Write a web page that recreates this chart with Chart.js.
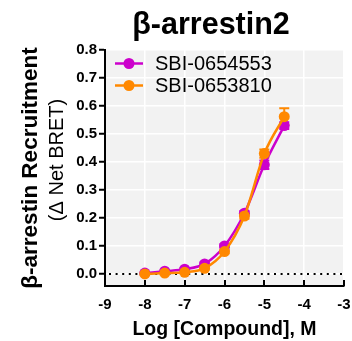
<!DOCTYPE html>
<html>
<head>
<meta charset="utf-8">
<script src="https://cdn.jsdelivr.net/npm/chart.js@4"></script>
<style>
  html, body { margin: 0; padding: 0; background: #fff; }
  #wrap { width: 352px; height: 341px; }
</style>
</head>
<body>
<div id="wrap"><canvas id="grafica" width="352" height="341"></canvas></div>
<script>
// datos
const titulo = 'β-arrestin2';
const dosis = [-8, -7.5, -7, -6.5, -6, -5.5, -5, -4.5];
const nombres = ['SBI-0654553', 'SBI-0653810'];
const valoresMorado = [0.003, 0.010, 0.017, 0.036, 0.100, 0.217, 0.390, 0.530];
const errorMorado = [0.004, 0.004, 0.004, 0.005, 0.006, 0.008, 0.015, 0.012];
const valoresNaranja = [0.000, 0.003, 0.006, 0.020, 0.080, 0.207, 0.430, 0.562];
const errorNaranja = [0.003, 0.004, 0.004, 0.005, 0.006, 0.010, 0.015, 0.030];
const ticksY = [0, 0.1, 0.2, 0.3, 0.4, 0.5, 0.6, 0.7, 0.8];
const colores = ['#cc00cc', '#ff8800'];
const FUENTE = '"Liberation Sans", Arial, sans-serif';

function puntos(valores){
    return dosis.map((d, i) => ({x: d, y: valores[i]}));
}

// fondo, linea punteada, barras de error, leyenda y titulos
const extras = {
    id: 'extras',
    beforeDraw(chart){
        const ctx = chart.ctx, a = chart.chartArea;
        ctx.save();
        ctx.fillStyle = '#fff';
        ctx.fillRect(0, 0, chart.width, chart.height);
        ctx.fillStyle = '#f2f2f2';
        ctx.fillRect(a.left, a.top, a.right - a.left, a.bottom - a.top);
        ctx.restore();
    },
    beforeDatasetsDraw(chart){
        const ctx = chart.ctx, a = chart.chartArea;
        const x = chart.scales.x, y = chart.scales.y;
        ctx.save();
        // linea en cero
        ctx.strokeStyle = '#000';
        ctx.lineWidth = 2;
        ctx.setLineDash([2, 4.6]);
        const y0 = Math.round(y.getPixelForValue(0));
        ctx.beginPath();
        ctx.moveTo(a.left + 4, y0);
        ctx.lineTo(a.right, y0);
        ctx.stroke();
        ctx.setLineDash([]);
        // barras de error
        const series = [[valoresMorado, errorMorado], [valoresNaranja, errorNaranja]];
        series.forEach((s, k) => {
            ctx.strokeStyle = colores[k];
            ctx.lineWidth = 2;
            dosis.forEach((d, i) => {
                const px = x.getPixelForValue(d);
                const top = y.getPixelForValue(s[0][i] + s[1][i]);
                const bot = y.getPixelForValue(s[0][i] - s[1][i]);
                ctx.beginPath();
                ctx.moveTo(px, top); ctx.lineTo(px, bot);
                ctx.moveTo(px - 5, top); ctx.lineTo(px + 5, top);
                ctx.moveTo(px - 5, bot); ctx.lineTo(px + 5, bot);
                ctx.stroke();
            });
        });
        ctx.restore();
    },
    afterDraw(chart){
        const ctx = chart.ctx, a = chart.chartArea;
        const x = chart.scales.x;
        ctx.save();
        // marcas del eje x hacia adentro
        ctx.strokeStyle = '#000';
        ctx.lineWidth = 2;
        x.ticks.forEach(t => {
            const px = Math.round(x.getPixelForValue(t.value));
            ctx.beginPath();
            ctx.moveTo(px, a.bottom);
            ctx.lineTo(px, a.bottom - 6);
            ctx.stroke();
        });
        // leyenda
        ctx.font = '20px ' + FUENTE;
        ctx.textBaseline = 'middle';
        ctx.textAlign = 'left';
        [63.5, 85.5].forEach((ly, k) => {
            ctx.strokeStyle = colores[k];
            ctx.fillStyle = colores[k];
            ctx.lineWidth = 2.5;
            ctx.beginPath();
            ctx.moveTo(115, ly); ctx.lineTo(143, ly);
            ctx.stroke();
            ctx.beginPath();
            ctx.arc(129, ly, 5.5, 0, Math.PI * 2);
            ctx.fill();
            ctx.fillStyle = '#000';
            ctx.fillText(nombres[k], 155, ly + 1);
        });
        // titulo
        ctx.fillStyle = '#000';
        ctx.textAlign = 'center';
        ctx.textBaseline = 'alphabetic';
        ctx.font = 'bold 30.5px ' + FUENTE;
        ctx.fillText(titulo, 211, 34);
        // titulo eje y
        ctx.save();
        ctx.translate(31, 168);
        ctx.rotate(-Math.PI / 2);
        ctx.textBaseline = 'middle';
        ctx.font = 'bold 22.5px ' + FUENTE;
        ctx.fillText('β-arrestin Recruitment', 0, 0);
        ctx.restore();
        ctx.save();
        ctx.translate(57, 160);
        ctx.rotate(-Math.PI / 2);
        ctx.textBaseline = 'middle';
        ctx.font = '20px ' + FUENTE;
        ctx.fillText('(Δ Net BRET)', 0, 0);
        ctx.restore();
        ctx.restore();
    }
};

const grafica = new Chart(document.getElementById('grafica'), {
    type: 'scatter',
    data: {
        datasets: [{
            label: nombres[0],
            data: puntos(valoresMorado),
            showLine: true,
            borderColor: colores[0],
            backgroundColor: colores[0],
            borderWidth: 2.5,
            pointRadius: 5.5,
            pointBorderWidth: 0,
            cubicInterpolationMode: 'monotone',
            order: 2
        }, {
            label: nombres[1],
            data: puntos(valoresNaranja),
            showLine: true,
            borderColor: colores[1],
            backgroundColor: colores[1],
            borderWidth: 2.5,
            pointRadius: 5.5,
            pointBorderWidth: 0,
            cubicInterpolationMode: 'monotone',
            order: 1
        }]
    },
    options: {
        responsive: false,
        animation: false,
        devicePixelRatio: 1,
        layout: { padding: { top: 50, right: 0, left: 0, bottom: 0 } },
        plugins: {
            legend: { display: false },
            tooltip: { enabled: false }
        },
        scales: {
            x: {
                type: 'linear',
                min: -9,
                max: -3,
                afterFit: (s) => { s.height = 55; s.paddingRight = 8; s.paddingLeft = 0; },
                grid: { color: '#fff', lineWidth: 1.5, drawTicks: false },
                border: { color: '#000', width: 2 },
                ticks: {
                    stepSize: 1,
                    padding: 10,
                    color: '#000',
                    font: { family: FUENTE, size: 15, weight: 'bold' },
                    callback: (v) => String(v)
                },
                title: {
                    display: true,
                    text: 'Log [Compound], M',
                    color: '#000',
                    font: { family: FUENTE, size: 19.5, weight: 'bold' },
                    padding: { top: 0, bottom: 0 }
                }
            },
            y: {
                min: -0.043,
                max: 0.8,
                afterFit: (s) => { s.width = 105; },
                afterBuildTicks: (s) => { s.ticks = ticksY.map(v => ({ value: v })); },
                grid: { color: '#fff', lineWidth: 1.5, tickColor: '#000', tickLength: 6, tickWidth: 2 },
                border: { color: '#000', width: 2 },
                ticks: {
                    padding: 2,
                    color: '#000',
                    font: { family: FUENTE, size: 15, weight: 'bold' },
                    callback: (v) => v.toFixed(1)
                }
            }
        }
    },
    plugins: [extras]
});
</script>
</body>
</html>
